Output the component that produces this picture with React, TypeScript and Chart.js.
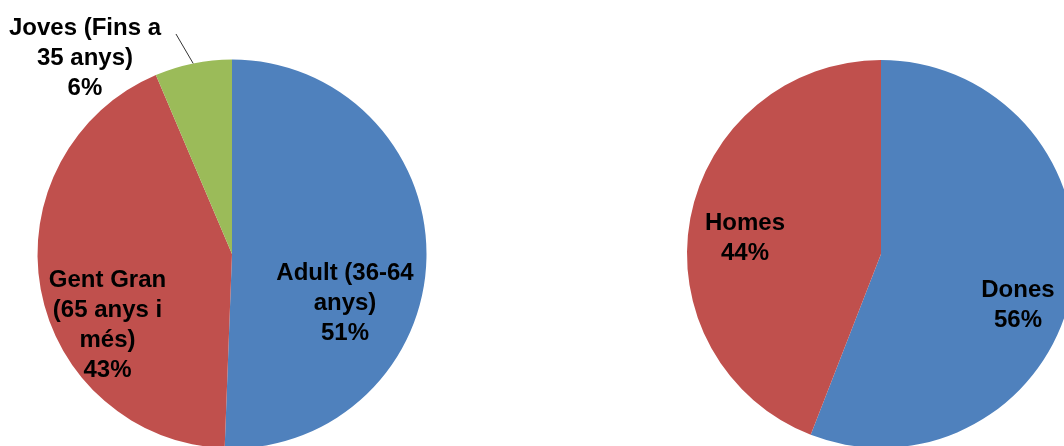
import React, { useEffect, useRef } from "react";
import { Chart, registerables } from "chart.js";

Chart.register(...registerables);

// Left pie: age groups
const ageCategories = ["Adult (36-64 anys)", "Gent Gran (65 anys i més)", "Joves (Fins a 35 anys)"];
const ageLabelLines = [["Adult (36-64", "anys)"], ["Gent Gran", "(65 anys i", "més)"], ["Joves (Fins a", "35 anys)"]];
const ageValues = [50.6, 43.0, 6.4];
const ageColors = ["#4F81BD", "#C0504D", "#9BBB59"];
// label anchor offsets (in units of radius) relative to the pie centre: [dx, dy of first baseline]
const ageLabelOffsets = [[0.581, 0.134], [-0.64, 0.17], [-0.756, -1.126]];
const ageLeader = [false, false, true];

// Right pie: gender
const genderCategories = ["Dones", "Homes"];
const genderLabelLines = [["Dones"], ["Homes"]];
const genderValues = [55.9, 44.1];
const genderColors = ["#4F81BD", "#C0504D"];
const genderLabelOffsets = [[0.706, 0.22], [-0.701, -0.126]];
const genderLeader = [false, false];

const FONT = 'bold 24px "Liberation Sans", Arial, sans-serif';
const LINE_H = 30;

function makeLabelPlugin(lines: string[][], offsets: number[][], leader: boolean[], values: number[]) {
  return {
    id: "sliceLabels",
    afterDatasetsDraw(chart: any) {
      const ctx = chart.ctx;
      const meta = chart.getDatasetMeta(0);
      ctx.save();
      ctx.font = FONT;
      ctx.fillStyle = "#000";
      ctx.textAlign = "center";
      ctx.textBaseline = "alphabetic";
      meta.data.forEach((arc: any, i: number) => {
        const p = arc.getProps(["x", "y", "outerRadius", "startAngle", "endAngle"], true);
        const R = p.outerRadius;
        const lx = p.x + offsets[i][0] * R;
        const ly = p.y + offsets[i][1] * R;
        const all = [...lines[i], Math.round(values[i]) + "%"];
        all.forEach((t, k) => ctx.fillText(t, lx, ly + k * LINE_H));
        if (leader[i]) {
          const mid = (p.startAngle + p.endAngle) / 2;
          const ex = p.x + Math.cos(mid) * R;
          const ey = p.y + Math.sin(mid) * R;
          ctx.beginPath();
          ctx.strokeStyle = "#333";
          ctx.lineWidth = 1;
          ctx.moveTo(ex, ey);
          ctx.lineTo(lx + 91, ly - 1);
          ctx.stroke();
        }
      });
      ctx.restore();
    },
  };
}

function PieCanvas(props: {
  labels: string[];
  values: number[];
  colors: string[];
  lines: string[][];
  offsets: number[][];
  leader: boolean[];
  radius: number;
  left: number;
}) {
  const ref = useRef<HTMLCanvasElement | null>(null);
  useEffect(() => {
    if (!ref.current) return;
    const chart = new Chart(ref.current, {
      type: "pie",
      data: {
        labels: props.labels,
        datasets: [
          {
            data: props.values,
            backgroundColor: props.colors,
            borderWidth: 0,
            radius: props.radius,
          } as any,
        ],
      },
      options: {
        responsive: false,
        maintainAspectRatio: false,
        animation: false,
        layout: { padding: 0 },
        plugins: { legend: { display: false }, tooltip: { enabled: false } },
      },
      plugins: [makeLabelPlugin(props.lines, props.offsets, props.leader, props.values)],
    });
    return () => chart.destroy();
  }, []);
  return (
    <canvas
      ref={ref}
      width={464}
      height={508}
      style={{ position: "absolute", left: props.left, top: 0, width: 464, height: 508 }}
    />
  );
}

export default function App() {
  return (
    <div
      style={{
        position: "fixed",
        left: 0,
        top: 0,
        width: 1064,
        height: 446,
        overflow: "hidden",
        background: "#fff",
      }}
    >
      <PieCanvas
        labels={ageCategories}
        values={ageValues}
        colors={ageColors}
        lines={ageLabelLines}
        offsets={ageLabelOffsets}
        leader={ageLeader}
        radius={194.5}
        left={0}
      />
      <PieCanvas
        labels={genderCategories}
        values={genderValues}
        colors={genderColors}
        lines={genderLabelLines}
        offsets={genderLabelOffsets}
        leader={genderLeader}
        radius={194}
        left={649}
      />
    </div>
  );
}
